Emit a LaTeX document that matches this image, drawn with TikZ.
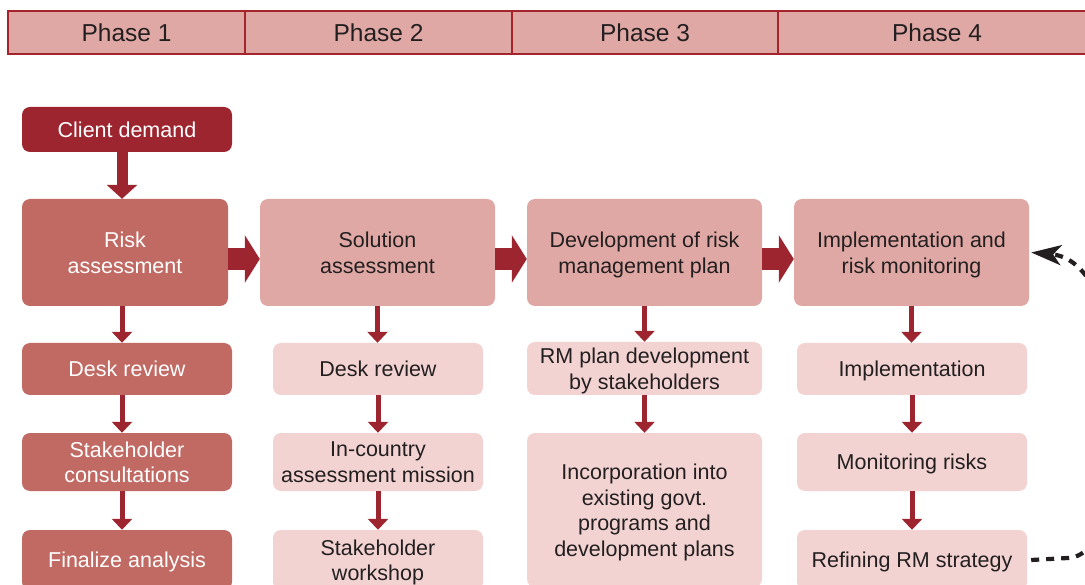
\documentclass[tikz,border=0pt]{standalone}
\usepackage{fontspec}
\setmainfont{Liberation Sans}
\usetikzlibrary{arrows.meta,calc}
\definecolor{darkred}{HTML}{9C2530}
\definecolor{midred}{HTML}{C06A63}
\definecolor{lightred}{HTML}{E0A8A4}
\definecolor{palered}{HTML}{F2D3D1}
\definecolor{hdrline}{HTML}{A3242B}
\definecolor{txt}{HTML}{231F20}
\begin{document}
\begin{tikzpicture}[x=1pt,y=-1pt,
  every node/.style={font=\fontsize{21.5}{25.5}\selectfont, align=center, inner sep=0pt, text depth=0pt},
  hdr/.style={draw=hdrline, line width=1.2pt, fill=lightred, text=txt, minimum height=43pt, font=\fontsize{24.5}{28}\selectfont},
  boxdark/.style={fill=darkred, text=white, rounded corners=8pt},
  boxmid/.style={fill=midred, text=white, rounded corners=8pt},
  boxlight/.style={fill=lightred, text=txt, rounded corners=8pt},
  boxpale/.style={fill=palered, text=txt, rounded corners=8pt},
  bigarrow/.style={draw=darkred, line width=22pt, line cap=butt, -{Triangle[width=47pt,length=15pt]}},
  toparrow/.style={draw=darkred, line width=11pt, line cap=butt, -{Triangle[width=30pt,length=14pt]}},
  smallarrow/.style={draw=darkred, line width=5pt, line cap=butt, -{Triangle[width=20pt,length=11pt]}},
  feedback/.style={draw=txt, line width=4.2pt, dash pattern=on 8pt off 7pt, -{Stealth[length=30pt,width=20pt,inset=8pt]}}
]
\useasboundingbox (0,0) rectangle (1085,585);

% header
\node[hdr, minimum width=237pt] (p1) at (126.5,32.5) {Phase 1};
\node[hdr, minimum width=267pt] (p2) at (378.5,32.5) {Phase 2};
\node[hdr, minimum width=266pt] (p3) at (645,32.5) {Phase 3};
\node[hdr, minimum width=318pt] (p4) at (937,32.5) {Phase 4};

% top
\node[boxdark, minimum width=210pt, minimum height=45pt] (client) at (127,129.5) {Client demand};

% row 1
\node[boxmid, minimum width=206pt, minimum height=107pt] (risk) at (125,252.5) {Risk\\assessment};
\node[boxlight, minimum width=235pt, minimum height=107pt] (sol) at (377.5,252.5) {Solution\\assessment};
\node[boxlight, minimum width=235pt, minimum height=107pt] (dev) at (644.5,252.5) {Development of risk\\management plan};
\node[boxlight, minimum width=235pt, minimum height=107pt] (impl) at (911.5,252.5) {Implementation and\\risk monitoring};

% column 1
\node[boxmid, minimum width=210pt, minimum height=52pt] (a1) at (127,369) {Desk review};
\node[boxmid, minimum width=210pt, minimum height=58pt] (a2) at (127,462) {Stakeholder\\consultations};
\node[boxmid, minimum width=210pt, minimum height=60pt] (a3) at (127,560) {Finalize analysis};

% column 2
\node[boxpale, minimum width=210pt, minimum height=52pt] (b1) at (378,369) {Desk review};
\node[boxpale, minimum width=210pt, minimum height=58pt] (b2) at (378,462) {In-country\\assessment mission};
\node[boxpale, minimum width=210pt, minimum height=60pt] (b3) at (378,560) {Stakeholder\\workshop};

% column 3
\node[boxpale, minimum width=235pt, minimum height=53pt] (c1) at (644.5,368.5) {RM plan development\\by stakeholders};
\node[boxpale, minimum width=235pt, minimum height=154pt] (c2) at (644.5,510) {Incorporation into\\existing govt.\\programs and\\development plans};

% column 4
\node[boxpale, minimum width=230pt, minimum height=52pt] (d1) at (912,369) {Implementation};
\node[boxpale, minimum width=230pt, minimum height=58pt] (d2) at (912,462) {Monitoring risks};
\node[boxpale, minimum width=230pt, minimum height=60pt] (d3) at (912,560) {Refining RM strategy};

% arrows
\draw[toparrow] ([xshift=-5pt]client.south) -- ([xshift=-5pt]client.south |- risk.north);
\draw[bigarrow] ([yshift=-6.5pt]risk.east) -- ([yshift=-6.5pt]sol.west);
\draw[bigarrow] ([yshift=-6.5pt]sol.east) -- ([yshift=-6.5pt]dev.west);
\draw[bigarrow] ([yshift=-6.5pt]dev.east) -- ([yshift=-6.5pt]impl.west);

\draw[smallarrow] ([xshift=-3pt]risk.south) -- ([xshift=-3pt]risk.south |- a1.north);
\draw[smallarrow] ([xshift=-5pt]a1.south) -- ([xshift=-5pt]a2.north);
\draw[smallarrow] ([xshift=-5pt]a2.south) -- ([xshift=-5pt]a3.north);

\draw[smallarrow] (sol.south) -- (sol.south |- b1.north);
\draw[smallarrow] (b1.south) -- (b2.north);
\draw[smallarrow] (b2.south) -- (b3.north);

\draw[smallarrow] (dev.south) -- (dev.south |- c1.north);
\draw[smallarrow] (c1.south) -- (c2.north);

\draw[smallarrow] (impl.south) -- (impl.south |- d1.north);
\draw[smallarrow] (d1.south) -- (d2.north);
\draw[smallarrow] (d2.south) -- (d3.north);

% feedback
\coordinate (fb1) at (1068,558);
\draw[feedback] ([xshift=4pt]d3.east) -- (fb1) .. controls (1140,555) and (1140,262) .. ([xshift=2pt]impl.east);
\end{tikzpicture}
\end{document}
